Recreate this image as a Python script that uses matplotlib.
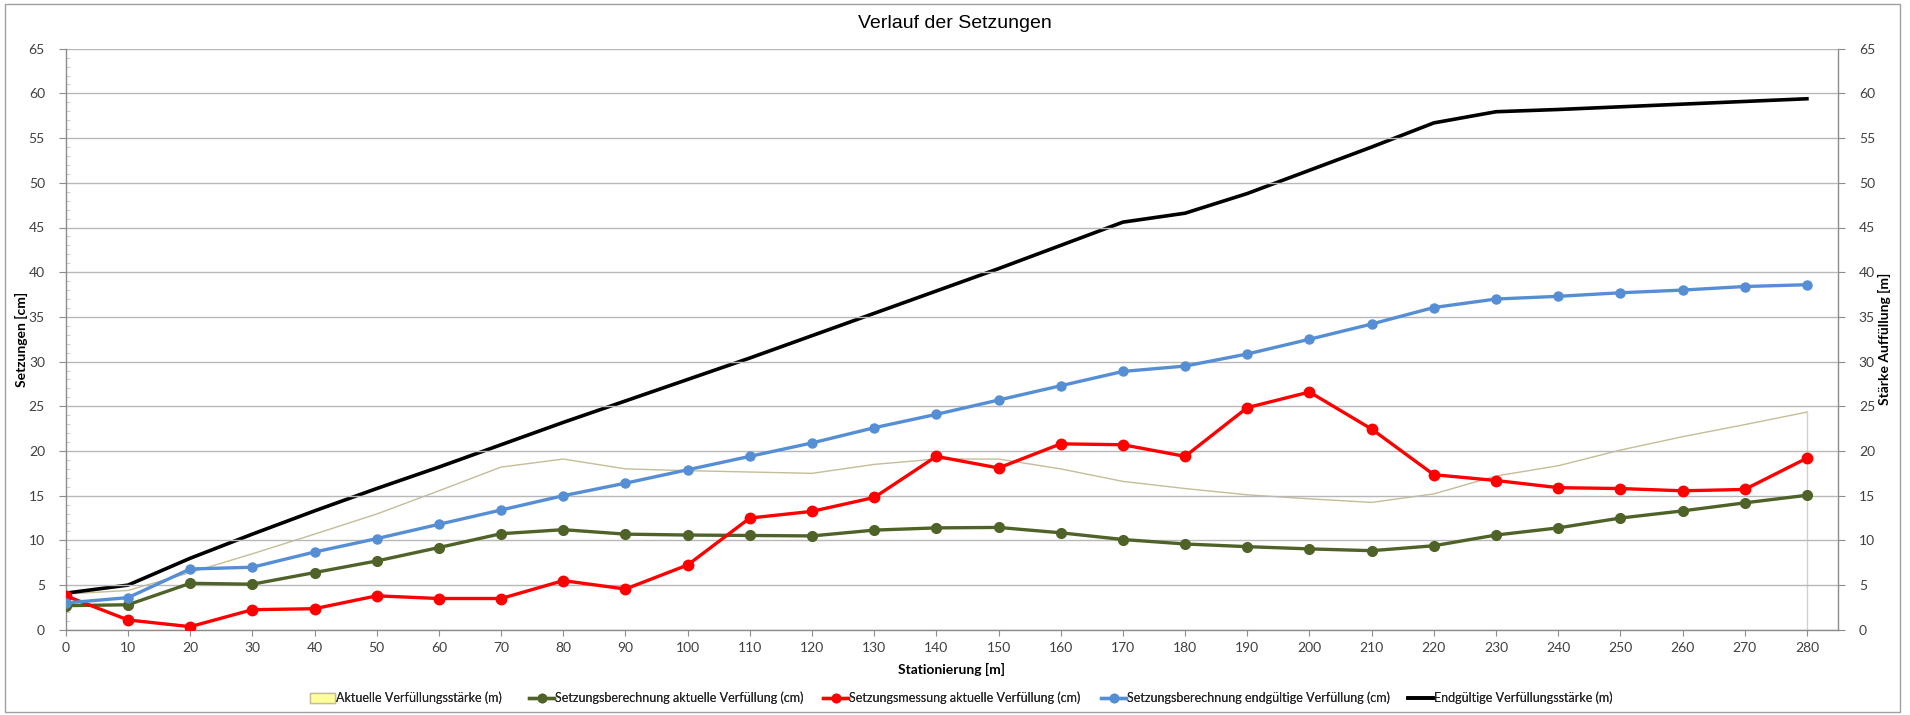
import matplotlib
matplotlib.use("Agg")
import matplotlib.pyplot as plt
from matplotlib.patches import Patch, Rectangle
from matplotlib.lines import Line2D
from matplotlib.ticker import MultipleLocator

stations = [0, 10, 20, 30, 40, 50, 60, 70, 80, 90, 100, 110, 120, 130, 140,
            150, 160, 170, 180, 190, 200, 210, 220, 230, 240, 250, 260, 270, 280]

aktuelle_verfuellung_m = [4.0, 4.4, 6.4, 8.5, 10.7, 12.95, 15.55, 18.2, 19.1, 18.0,
                          17.8, 17.65, 17.5, 18.5, 19.1, 19.1, 18.0, 16.6, 15.8, 15.1,
                          14.65, 14.25, 15.2, 17.2, 18.35, 20.1, 21.6, 22.95, 24.35]

berechnung_aktuell_cm = [2.7, 2.8, 5.2, 5.1, 6.4, 7.7, 9.2, 10.75, 11.2, 10.7,
                         10.6, 10.55, 10.5, 11.15, 11.4, 11.45, 10.85, 10.1, 9.6, 9.3,
                         9.05, 8.85, 9.4, 10.6, 11.4, 12.5, 13.3, 14.2, 15.05]

messung_aktuell_cm = [3.8, 1.1, 0.35, 2.25, 2.36, 3.8, 3.5, 3.5, 5.5, 4.56,
                      7.25, 12.5, 13.25, 14.8, 19.4, 18.1, 20.8, 20.7, 19.4, 24.85,
                      26.6, 22.45, 17.35, 16.7, 15.9, 15.8, 15.55, 15.7, 19.2]

berechnung_endgueltig_cm = [3.0, 3.6, 6.8, 7.0, 8.7, 10.2, 11.8, 13.4, 15.0, 16.4,
                            17.9, 19.4, 20.9, 22.6, 24.1, 25.7, 27.3, 28.9, 29.5, 30.85,
                            32.5, 34.2, 36.05, 37.0, 37.3, 37.7, 38.0, 38.4, 38.6]

endgueltig_verfuellung_m = [4.1, 5.0, 8.0, 10.7, 13.3, 15.8, 18.2, 20.7, 23.2, 25.6,
                            28.0, 30.4, 32.9, 35.4, 37.9, 40.4, 43.0, 45.6, 46.6, 48.8,
                            51.4, 54.0, 56.7, 57.95, 58.2, 58.5, 58.8, 59.1, 59.4]

labels = ["Aktuelle Verfüllungsstärke (m)",
          "Setzungsberechnung aktuelle Verfüllung (cm)",
          "Setzungsmessung aktuelle Verfüllung (cm)",
          "Setzungsberechnung endgültige Verfüllung (cm)",
          "Endgültige Verfüllungsstärke (m)"]

plt.rcParams['font.family'] = ['Lato', 'DejaVu Sans']
W, H = 1910, 715
fig = plt.figure(figsize=(W / 100, H / 100), dpi=100)
fig.patches.append(Rectangle((5 / W, 3 / H), 1895 / W, 708 / H, transform=fig.transFigure,
                             fill=False, edgecolor='#a0a0a0', linewidth=1.0))

ax = fig.add_axes([65.8 / W, 1 - 629.8 / H, (1838 - 65.8) / W, (629.8 - 48.7) / H])
ax2 = ax.twinx()

grid_c = '#b8b8b8'
ax.set_xlim(0, 285)
ax.set_ylim(0, 65)
ax2.set_ylim(0, 65)
ax.set_xticks(stations)
ax.set_yticks(range(0, 66, 5))
ax2.set_yticks(range(0, 66, 5))
ax.yaxis.set_minor_locator(MultipleLocator(1))
ax.grid(axis='y', color=grid_c, linewidth=1.0)
ax.set_axisbelow(True)

for a in (ax, ax2):
    for s in a.spines.values():
        s.set_visible(False)
ax.spines['left'].set_visible(True)
ax.spines['bottom'].set_visible(True)
ax2.spines['right'].set_visible(True)
for s in (ax.spines['left'], ax.spines['bottom'], ax2.spines['right']):
    s.set_color('#8c8c8c')
    s.set_linewidth(1.0)

tick_c = '#404040'
ax.tick_params(axis='x', which='major', length=4, color='#8c8c8c', labelsize=10,
               labelcolor=tick_c, pad=5)
ax.tick_params(axis='y', which='major', length=5, color='#8c8c8c', labelsize=10,
               labelcolor=tick_c, pad=10)
ax.tick_params(axis='y', which='minor', length=3, color='#c8c8c8', direction='in')
ax2.tick_params(axis='y', which='major', length=5, color='#8c8c8c', labelsize=10,
                labelcolor=tick_c, pad=10)

# area on secondary axis (interior renders essentially white in the reference)
ax2.fill_between(stations, aktuelle_verfuellung_m, 0, facecolor='#ffffcc', alpha=0.0,
                 edgecolor='none', zorder=1)
ax2.plot(stations, aktuelle_verfuellung_m, color='#c4bd97', linewidth=1.0, zorder=2)
ax2.plot([stations[-1], stations[-1]], [0, aktuelle_verfuellung_m[-1]],
         color='#d8d2b4', linewidth=1.0, zorder=2)

ax2.plot(stations, endgueltig_verfuellung_m, color='black', linewidth=2.6, zorder=3)
ax.plot(stations, berechnung_aktuell_cm, color='#4f6228', linewidth=2.4, marker='o',
        markersize=7, zorder=4)
ax.plot(stations, messung_aktuell_cm, color='#ff0000', linewidth=2.4, marker='o',
        markersize=7.5, zorder=5)
ax.plot(stations, berechnung_endgueltig_cm, color='#558ed5', linewidth=2.4, marker='o',
        markersize=6.5, zorder=6)
ax.set_zorder(ax2.get_zorder() + 1)
ax.patch.set_visible(False)

ax.set_ylabel("Setzungen [cm]", fontsize=10, fontweight='bold')
ax2.set_ylabel("Stärke Auffüllung [m]", fontsize=10, fontweight='bold')
ax.yaxis.set_label_coords(-0.0215, 0.5)
ax2.yaxis.set_label_coords(1.0225, 0.5)
ax.set_xlabel("Stationierung [m]", fontsize=10, fontweight='bold', labelpad=6)
fig.text(0.5, 1 - 24 / H, "Verlauf der Setzungen", ha='center', va='center',
         fontsize=14, family=['Liberation Sans', 'DejaVu Sans'])

handles = [
    Patch(facecolor='#ffff99', edgecolor='#c4bd97', linewidth=1.0),
    Line2D([], [], color='#4f6228', linewidth=2.4, marker='o', markersize=6),
    Line2D([], [], color='#ff0000', linewidth=2.4, marker='o', markersize=6),
    Line2D([], [], color='#558ed5', linewidth=2.4, marker='o', markersize=6),
    Line2D([], [], color='black', linewidth=2.6),
]
legend_x = [310, 529, 823, 1101, 1408]
for h, lab, lx in zip(handles, labels, legend_x):
    lg = fig.legend([h], [lab], loc='center left', bbox_to_anchor=(lx / W, 1 - 698 / H),
                    frameon=False, fontsize=9, handlelength=2.0, handleheight=0.8,
                    handletextpad=0.1, borderpad=0, borderaxespad=0,
                    labelcolor='#262626')
    fig.add_artist(lg)

fig.savefig("out.png", dpi=100)
